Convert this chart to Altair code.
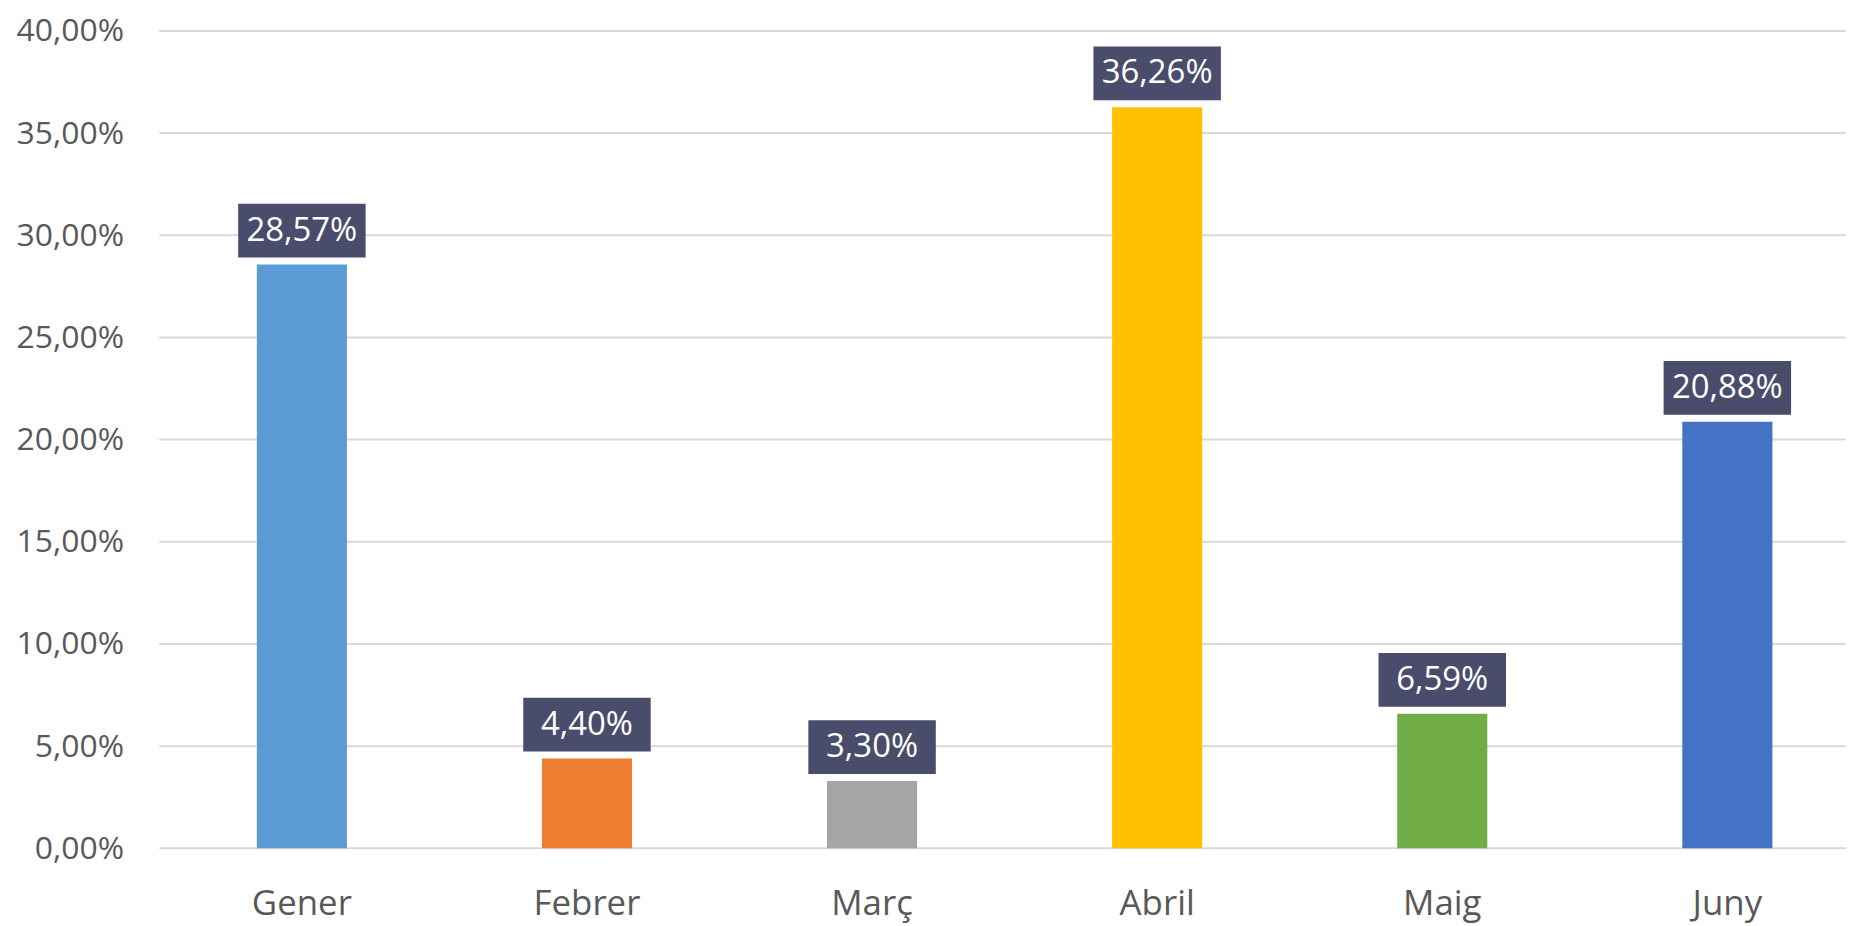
import altair as alt
import pandas as pd

months = ["Gener", "Febrer", "Març", "Abril", "Maig", "Juny"]
values = [28.57, 4.40, 3.30, 36.26, 6.59, 20.88]
colors = ["#5B9BD5", "#ED7D31", "#A5A5A5", "#FFC000", "#70AD47", "#4472C4"]
y_ticks = [0, 5, 10, 15, 20, 25, 30, 35, 40]

df = pd.DataFrame({
    "month": months,
    "value": values,
    "label": [f"{v:.2f}%".replace(".", ",") for v in values],
})
grid_df = pd.DataFrame({"value": y_ticks})

FONT = "Open Sans"
W = 1694
H = 821

xscale = alt.Scale(domain=months, range=[0, 1718], paddingInner=0.684, paddingOuter=0.342)
yscale = alt.Scale(domain=[0, 40], nice=False)

x = alt.X(
    "month:N",
    sort=months,
    title=None,
    scale=xscale,
    axis=alt.Axis(
        labelAngle=0, labelFont=FONT, labelFontSize=35, labelColor="#595959",
        labelPadding=38, ticks=False, domain=False, grid=False,
    ),
)
yaxis = alt.Axis(
    values=y_ticks, labelFont=FONT, labelFontSize=32, labelColor="#595959",
    labelExpr="replace(format(datum.value, '.2f'), '.', ',') + '%'",
    labelPadding=36, ticks=False, domain=False, grid=False,
)
y = alt.Y("value:Q", title=None, scale=yscale, axis=yaxis)

grid = alt.Chart(grid_df).mark_rule(color="#D9D9D9", strokeWidth=2).encode(
    y=alt.Y("value:Q", title=None, scale=yscale, axis=yaxis),
    y2=alt.Y2("value"),
    x=alt.value(0),
    x2=alt.value(W),
)

base = alt.Chart(df)

bars = base.mark_bar().encode(
    x=x,
    y=y,
    color=alt.Color("month:N", scale=alt.Scale(domain=months, range=colors), legend=None),
)

boxes = base.mark_bar(width=128, yOffset=-7, y2Offset=-61, color="#4A4C6C").encode(
    x=alt.X("month:N", sort=months),
    y=alt.Y("value:Q"),
    y2=alt.Y2("value"),
)

texts = base.mark_text(
    font=FONT, fontSize=33, color="white", baseline="middle", align="center", dy=-34
).encode(
    x=alt.X("month:N", sort=months),
    y=alt.Y("value:Q"),
    text="label:N",
)

chart = (grid + bars + boxes + texts).properties(
    width=W,
    height=H,
    background="white",
    autosize=alt.AutoSizeParams(type="none"),
    padding={"left": 152, "top": 21, "right": 0, "bottom": 76},
).configure_view(strokeWidth=0)

chart.save("out.html", embed_options={"renderer": "svg", "actions": False})
